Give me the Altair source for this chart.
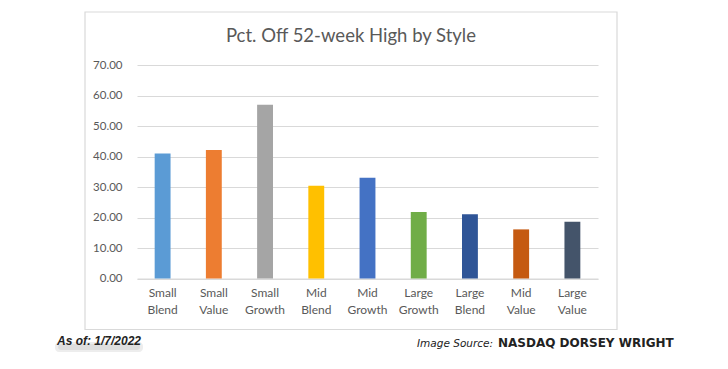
import altair as alt
import pandas as pd

categories = ["Small Blend", "Small Value", "Small Growth", "Mid Blend", "Mid Growth",
              "Large Growth", "Large Blend", "Mid Value", "Large Value"]
values = [41.0, 42.1, 57.0, 30.4, 33.0, 21.8, 21.1, 16.1, 18.6]
colors = ["#5B9BD5", "#ED7D31", "#A5A5A5", "#FFC000", "#4472C4",
          "#70AD47", "#2F5597", "#C55A11", "#44546A"]
y_ticks = [0, 10, 20, 30, 40, 50, 60, 70]

title_text = "Pct. Off 52-week High by Style"
as_of_text = "As of: 1/7/2022"
source_label = "Image Source:"
source_name = "NASDAQ DORSEY WRIGHT"

df = pd.DataFrame({"style": categories, "pct": values})

W, H = 461, 213.5
GRAY = "#595959"
FONT = "Lato"

bars = alt.Chart(df).mark_bar().encode(
    x=alt.X("style:N", sort=categories,
            scale=alt.Scale(paddingInner=0.69, paddingOuter=0.345),
            axis=alt.Axis(title=None, labelAngle=0, ticks=False, domain=True,
                          domainColor="#D9D9D9", labelColor=GRAY, labelFont=FONT,
                          labelFontSize=12, labelPadding=9, labelLineHeight=17,
                          labelExpr="split(datum.label, ' ')")),
    y=alt.Y("pct:Q", scale=alt.Scale(domain=[0, 70], nice=False),
            axis=alt.Axis(title=None, values=y_ticks, format=".2f", ticks=False,
                          domain=False, grid=True, gridColor="#D9D9D9",
                          labelColor=GRAY, labelFont=FONT, labelFontSize=11.5,
                          labelPadding=15)),
    color=alt.Color("style:N", sort=categories,
                    scale=alt.Scale(domain=categories, range=colors), legend=None),
)

one = alt.Data(values=[{"k": 1}])

frame = alt.Chart(one).mark_rect(fill=None, stroke="#D9D9D9", strokeWidth=1.2).encode(
    x=alt.value(-52), x2=alt.value(480), y=alt.value(-53), y2=alt.value(264.5))

title = alt.Chart(one).mark_text(font=FONT, fontSize=18.5, color=GRAY, align="center",
                                 baseline="middle").encode(
    x=alt.value(214), y=alt.value(-29), text=alt.value(title_text))

shadow1 = alt.Chart(one).mark_rect(color="#9A9A9A", opacity=0.18, cornerRadius=4).encode(
    x=alt.value(-82), x2=alt.value(6), y=alt.value(277), y2=alt.value(287))
shadow2 = alt.Chart(one).mark_rect(color="#9A9A9A", opacity=0.18, cornerRadius=3).encode(
    x=alt.value(-79), x2=alt.value(3), y=alt.value(279), y2=alt.value(285))

as_of = alt.Chart(one).mark_text(font="Liberation Sans", fontSize=12, fontWeight="bold",
                                 fontStyle="italic", color="#222222", align="left",
                                 baseline="middle").encode(
    x=alt.value(-80), y=alt.value(276), text=alt.value(as_of_text))

src_lbl = alt.Chart(one).mark_text(font="DejaVu Sans", fontSize=10.5, fontStyle="italic",
                                   color="#222222", align="left", baseline="middle").encode(
    x=alt.value(280), y=alt.value(279), text=alt.value(source_label))

src_name = alt.Chart(one).mark_text(font="DejaVu Sans", fontSize=12, fontWeight="bold",
                                    color="#222222", align="left", baseline="middle").encode(
    x=alt.value(361), y=alt.value(278), text=alt.value(source_name))

chart = alt.layer(frame, bars, title, shadow1, shadow2, as_of, src_lbl, src_name).properties(
    width=W, height=H,
    autosize=alt.AutoSizeParams(type="none"),
    padding={"left": 129, "top": 57, "right": 122, "bottom": 82},
    background="white",
).configure_view(stroke=None)

chart.save("out.html", embed_options={"renderer": "svg", "actions": False})
